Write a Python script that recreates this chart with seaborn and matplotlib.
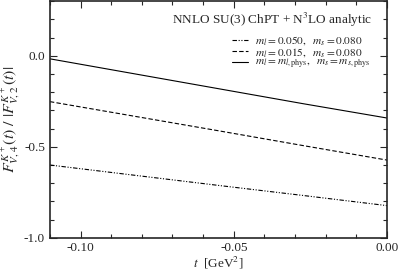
import numpy as np
import pandas as pd
import matplotlib
matplotlib.use("Agg")
import matplotlib.pyplot as plt
import seaborn as sns
from matplotlib.ticker import MultipleLocator

sns.set_style("ticks")
plt.rcParams['font.family'] = ['Liberation Serif', 'DejaVu Serif']
plt.rcParams['mathtext.fontset'] = 'stix'

t_vals = [-0.11, -0.0825, -0.055, -0.0275, 0.0]
heavy = [-0.600, -0.656, -0.712, -0.767, -0.823]
mid = [-0.252, -0.332, -0.412, -0.493, -0.573]
phys = [-0.017, -0.099, -0.181, -0.263, -0.342]
labels = [r"$m_l = 0.050,\ \ m_s = 0.080$",
          r"$m_l = 0.015,\ \ m_s = 0.080$",
          r"$m_l = m_{l,\mathrm{phys}},\ \ m_s = m_{s,\mathrm{phys}}$"]

rows = []
for lab, vals in zip(labels, [heavy, mid, phys]):
    for t, v in zip(t_vals, vals):
        rows.append({"t": t, "F": v, "series": lab})
df = pd.DataFrame(rows)

fig = plt.figure(figsize=(3.99, 2.70), dpi=100)
ax = fig.add_axes([0.125, 0.119, 0.845, 0.877])
dashes = {labels[0]: (4, 1.5, 1, 1.5, 1, 1.5), labels[1]: (4, 2), labels[2]: ""}
sns.lineplot(data=df, x="t", y="F", hue="series", style="series",
             palette=["black"] * 3, dashes=dashes, linewidth=0.8, ax=ax)

ax.set_xlim(-0.11, 0.0)
ax.set_ylim(-1.0, 0.3)
ax.xaxis.set_major_locator(MultipleLocator(0.05))
ax.xaxis.set_minor_locator(MultipleLocator(0.01))
ax.yaxis.set_major_locator(MultipleLocator(0.5))
ax.yaxis.set_minor_locator(MultipleLocator(0.1))
ax.xaxis.set_major_formatter(matplotlib.ticker.FormatStrFormatter("%.2f"))
ax.yaxis.set_major_formatter(matplotlib.ticker.FormatStrFormatter("%.1f"))
ax.tick_params(which="both", direction="in", top=True, right=True, labelsize=9.5, width=0.8)
ax.tick_params(axis="x", which="major", pad=3)
ax.tick_params(which="major", length=5)
ax.tick_params(which="minor", length=3)
for s in ax.spines.values():
    s.set_linewidth(1.2)

ax.set_xlabel(r"$t$  [GeV$^2$]", fontsize=9.5)
ax.xaxis.set_label_coords(0.5, -0.07, transform=ax.transAxes)
ax.set_ylabel(r"$F^{K^+}_{V,4}(t)\ /\ |F^{K^+}_{V,2}(t)|$", fontsize=11.5)
ax.yaxis.set_label_coords(-0.078, 0.5, transform=ax.transAxes)

ax.text(0.955, 0.92, r"NNLO SU(3) ChPT + N$^3$LO analytic", transform=ax.transAxes,
        ha="right", va="center", fontsize=9.5)

handles, labs = ax.get_legend_handles_labels()
for h in handles:
    h.set_linewidth(0.8)
leg = ax.legend(handles, labs, loc="upper right", bbox_to_anchor=(0.962, 0.88),
                frameon=False, fontsize=8.2, handlelength=1.4, handletextpad=0.6,
                labelspacing=-0.1, borderaxespad=0.0)

fig.savefig("out.png", dpi=100)
